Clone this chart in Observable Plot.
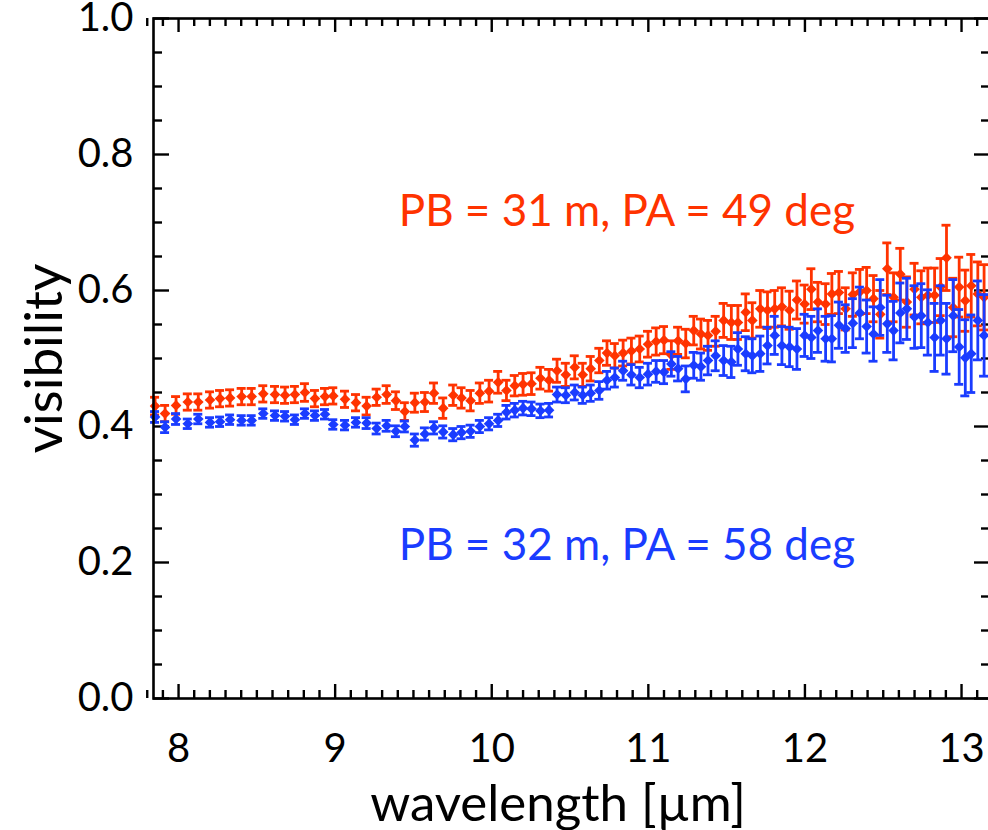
<!DOCTYPE html>
<html><head><meta charset="utf-8">
<script src="https://cdn.jsdelivr.net/npm/d3@7"></script>
<script src="https://cdn.jsdelivr.net/npm/@observablehq/plot@0.6"></script>
<style>html,body{margin:0;padding:0;background:#fff;overflow:hidden;}#chart svg{display:block;}</style>
</head><body><div id="chart"></div>
<script>
// ---------- data ----------
const wavelength = [7.850,7.914,7.984,8.059,8.126,8.201,8.265,8.329,8.403,8.467,
  8.541,8.616,8.680,8.743,8.807,8.871,8.935,8.988,9.063,9.133,
  9.201,9.265,9.329,9.388,9.445,9.509,9.573,9.631,9.690,9.754,
  9.807,9.865,9.924,9.983,10.041,10.094,10.147,10.200,10.254,10.311,
  10.366,10.417,10.473,10.530,10.581,10.632,10.687,10.736,10.786,10.839,
  10.892,10.945,10.998,11.050,11.100,11.147,11.190,11.239,11.290,11.336,
  11.381,11.430,11.481,11.530,11.572,11.622,11.664,11.715,11.761,11.807,
  11.853,11.902,11.949,11.998,12.041,12.083,12.132,12.172,12.217,12.260,
  12.306,12.351,12.394,12.438,12.481,12.526,12.566,12.609,12.651,12.700,
  12.743,12.785,12.828,12.867,12.904,12.947,12.985,13.024,13.062,13.104,13.144];

const visRed = [0.430,0.419,0.431,0.436,0.436,0.439,0.441,0.442,0.444,0.444,
  0.448,0.447,0.446,0.447,0.450,0.441,0.444,0.445,0.440,0.435,
  0.430,0.443,0.447,0.438,0.422,0.435,0.436,0.449,0.427,0.446,
  0.442,0.438,0.449,0.452,0.465,0.453,0.460,0.462,0.463,0.471,
  0.468,0.482,0.476,0.487,0.476,0.485,0.497,0.508,0.504,0.508,
  0.511,0.514,0.521,0.525,0.527,0.505,0.526,0.522,0.541,0.536,
  0.534,0.540,0.556,0.553,0.553,0.568,0.556,0.573,0.571,0.573,
  0.576,0.571,0.586,0.580,0.602,0.583,0.580,0.595,0.597,0.573,
  0.594,0.598,0.600,0.588,0.565,0.632,0.590,0.624,0.583,0.602,
  0.590,0.593,0.593,0.605,0.648,0.575,0.605,0.585,0.607,0.595,0.590];

const errRed = [0.013,0.012,0.013,0.012,0.012,0.012,0.012,0.012,0.012,0.012,
  0.012,0.012,0.012,0.012,0.013,0.012,0.012,0.012,0.012,0.012,
  0.013,0.012,0.013,0.013,0.013,0.014,0.014,0.015,0.015,0.015,
  0.015,0.015,0.015,0.016,0.016,0.015,0.015,0.016,0.016,0.016,
  0.016,0.017,0.017,0.017,0.017,0.018,0.018,0.018,0.018,0.019,
  0.019,0.019,0.019,0.020,0.020,0.021,0.020,0.021,0.021,0.022,
  0.022,0.022,0.025,0.025,0.025,0.027,0.026,0.027,0.027,0.027,
  0.028,0.028,0.028,0.028,0.030,0.029,0.030,0.030,0.031,0.031,
  0.032,0.033,0.034,0.034,0.035,0.038,0.036,0.038,0.037,0.038,
  0.039,0.040,0.040,0.042,0.048,0.043,0.044,0.045,0.046,0.047,0.048];

const visBlue = [0.414,0.399,0.411,0.404,0.411,0.406,0.407,0.410,0.409,0.409,
  0.419,0.416,0.415,0.410,0.419,0.416,0.418,0.403,0.402,0.406,
  0.405,0.397,0.401,0.393,0.400,0.380,0.389,0.398,0.392,0.388,
  0.391,0.393,0.400,0.404,0.409,0.421,0.424,0.427,0.426,0.423,
  0.424,0.447,0.446,0.450,0.446,0.449,0.453,0.468,0.472,0.482,
  0.476,0.472,0.477,0.481,0.480,0.492,0.485,0.470,0.490,0.488,
  0.497,0.504,0.497,0.495,0.514,0.507,0.504,0.507,0.519,0.534,
  0.519,0.517,0.514,0.534,0.531,0.541,0.529,0.529,0.549,0.544,
  0.552,0.567,0.547,0.536,0.575,0.551,0.541,0.567,0.573,0.561,
  0.563,0.553,0.531,0.556,0.529,0.563,0.517,0.501,0.507,0.556,0.534];

const errBlue = [0.008,0.008,0.008,0.007,0.007,0.007,0.007,0.007,0.007,0.007,
  0.007,0.007,0.007,0.007,0.007,0.007,0.007,0.007,0.007,0.007,
  0.008,0.008,0.008,0.008,0.008,0.009,0.009,0.009,0.009,0.009,
  0.009,0.009,0.009,0.009,0.009,0.010,0.010,0.010,0.010,0.010,
  0.010,0.011,0.011,0.011,0.012,0.012,0.013,0.013,0.014,0.014,
  0.015,0.015,0.016,0.016,0.017,0.018,0.018,0.019,0.019,0.020,
  0.021,0.022,0.022,0.023,0.024,0.025,0.025,0.026,0.027,0.028,
  0.028,0.029,0.030,0.031,0.031,0.032,0.033,0.034,0.034,0.035,
  0.036,0.038,0.039,0.040,0.041,0.042,0.043,0.044,0.045,0.046,
  0.047,0.048,0.050,0.051,0.052,0.053,0.055,0.056,0.057,0.058,0.060];

const seriesNames = ["PB = 31 m, PA = 49 deg", "PB = 32 m, PA = 58 deg"];
const xTickValues = [8, 9, 10, 11, 12, 13];
const yTickValues = [0.0, 0.2, 0.4, 0.6, 0.8, 1.0];
const xLabel = "wavelength [µm]";
const yLabel = "visibility";

// ---------- layout / style ----------
const W = 988, H = 830;
const mL = 153, mR = -2, mT = 18, mB = 132;
const frameW = W - mL - mR, frameH = H - mT - mB;
const RED = "#ff3300", BLUE = "#1a3cff";
const FONT = "Lato, 'Open Sans', sans-serif";

const toRows = (vals, errs) => wavelength.map((w, i) => ({w, v: vals[i], lo: vals[i] - errs[i], hi: vals[i] + errs[i]}));
const redRows = toRows(visRed, errRed);
const blueRows = toRows(visBlue, errBlue);

const xMinor = d3.range(78, 132).map(d => d / 10).filter(d => !xTickValues.some(t => Math.abs(t - d) < 1e-9));
const yMinor = d3.range(0, 21).map(d => d / 20).filter(d => !yTickValues.some(t => Math.abs(t - d) < 1e-9));

function seriesMarks(rows, color) {
  return [
    Plot.ruleX(rows, {x: "w", y1: "lo", y2: "hi", stroke: color, strokeWidth: 2.8}),
    Plot.ruleY(rows, {y: "hi", x1: "w", x2: "w", insetLeft: -4.5, insetRight: -4.5, stroke: color, strokeWidth: 2.8}),
    Plot.ruleY(rows, {y: "lo", x1: "w", x2: "w", insetLeft: -4.5, insetRight: -4.5, stroke: color, strokeWidth: 2.8}),
    Plot.dot(rows, {x: "w", y: "v", symbol: "diamond2", r: 4.8, fill: color, stroke: "none"})
  ];
}

const tickStyle = {stroke: "black", strokeWidth: 2.4};

const chart = Plot.plot({
  width: W, height: H,
  marginLeft: mL, marginRight: mR, marginTop: mT, marginBottom: mB,
  style: {fontFamily: FONT, background: "white", color: "black"},
  x: {domain: [7.84, 13.185]},
  y: {domain: [0, 1]},
  marks: [
    // inward ticks on all four sides
    Plot.tickX(xTickValues, {x: d => d, insetTop: frameH - 14, ...tickStyle}),
    Plot.tickX(xMinor, {x: d => d, insetTop: frameH - 8, ...tickStyle}),
    Plot.tickX(xTickValues, {x: d => d, insetBottom: frameH - 14, ...tickStyle}),
    Plot.tickX(xMinor, {x: d => d, insetBottom: frameH - 8, ...tickStyle}),
    Plot.tickY(yTickValues, {y: d => d, insetRight: frameW - 16, ...tickStyle}),
    Plot.tickY(yMinor, {y: d => d, insetRight: frameW - 9, ...tickStyle}),
    Plot.tickY(yTickValues, {y: d => d, insetLeft: frameW - 16, ...tickStyle}),
    Plot.tickY(yMinor, {y: d => d, insetLeft: frameW - 9, ...tickStyle}),
    Plot.axisX({ticks: xTickValues, tickSize: 0, tickPadding: 35, fontSize: 40, tickFormat: d3.format("d"), label: null}),
    Plot.axisY({ticks: yTickValues, tickSize: 0, tickPadding: 20, fontSize: 40, tickFormat: d3.format(".1f"), label: null}),
    ...seriesMarks(redRows, RED),
    ...seriesMarks(blueRows, BLUE),
    Plot.text([seriesNames[0]], {x: 12.32, y: 0.715, text: d => d, textAnchor: "end", fill: RED, fontSize: 44}),
    Plot.text([seriesNames[1]], {x: 12.32, y: 0.225, text: d => d, textAnchor: "end", fill: BLUE, fontSize: 44}),
    Plot.text([xLabel], {frameAnchor: "bottom", text: d => d, textAnchor: "middle", dy: 122, dx: -14, fontSize: 51, fill: "black"}),
    Plot.text([yLabel], {frameAnchor: "left", text: d => d, textAnchor: "middle", dx: -108, rotate: -90, fontSize: 53, fill: "black"}),
    Plot.frame({stroke: "black", strokeWidth: 2.6})
  ]
});
document.getElementById("chart").appendChild(chart);
</script>
</body></html>
